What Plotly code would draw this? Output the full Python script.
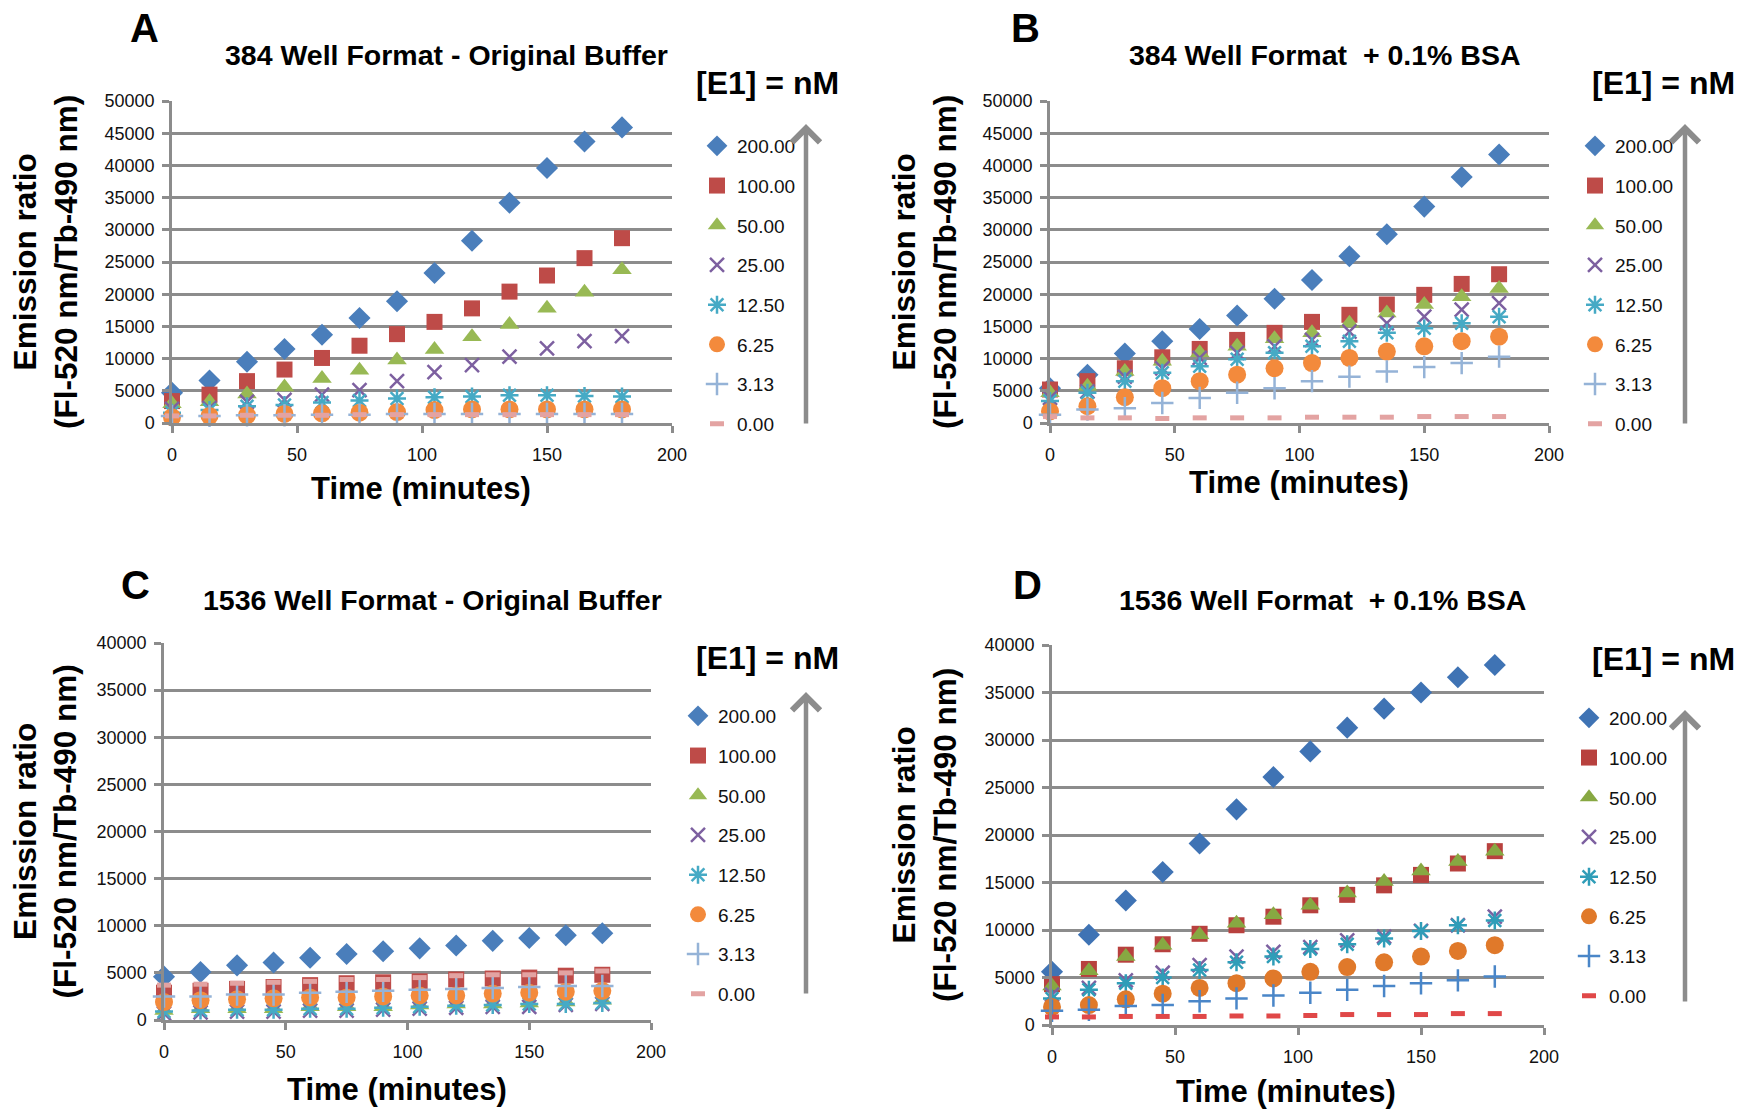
import plotly.graph_objects as go

# ---------------- data ----------------
TIME = [0, 15, 30, 45, 60, 75, 90, 105, 120, 135, 150, 165, 180]
CONC_LABELS = ["200.00", "100.00", "50.00", "25.00", "12.50", "6.25", "3.13", "0.00"]

# Panel A: 384 well, original buffer
A_200 = [4700, 6600, 9500, 11500, 13700, 16300, 18900, 23300, 28300, 34200, 39600, 43700, 45900]
A_100 = [3400, 4400, 6500, 8300, 10100, 12000, 13800, 15700, 17800, 20400, 22900, 25600, 28700]
A_50 = [3000, 3300, 4500, 5600, 6900, 8200, 9800, 11400, 13400, 15300, 17800, 20300, 23800]
A_25 = [2200, 2300, 3300, 3600, 4400, 5100, 6500, 7900, 9000, 10300, 11600, 12700, 13500]
A_12 = [1600, 2000, 2600, 2800, 3200, 3500, 3800, 4000, 4100, 4300, 4300, 4200, 4100]
A_6 = [900, 1100, 1200, 1400, 1500, 1600, 1700, 2000, 2100, 2100, 2100, 2100, 2100]
A_3 = [1100, 1100, 1200, 1200, 1300, 1300, 1400, 1400, 1400, 1400, 1400, 1400, 1400]
A_0 = [1100, 1100, 1200, 1200, 1200, 1300, 1300, 1300, 1300, 1300, 1300, 1300, 1300]

# Panel B: 384 well, +0.1% BSA
B_200 = [5400, 7500, 10800, 12700, 14600, 16700, 19300, 22200, 25900, 29300, 33600, 38200, 41700]
B_100 = [5200, 6500, 8500, 10200, 11500, 12900, 14000, 15700, 16800, 18400, 19900, 21600, 23100]
B_50 = [4700, 5700, 8000, 9600, 10900, 11900, 13100, 14000, 15500, 17100, 18400, 19600, 20900]
B_25 = [3900, 4900, 7200, 8500, 10100, 10900, 11900, 12900, 14200, 15500, 16500, 17600, 18600]
B_12 = [3400, 4700, 6500, 7800, 8800, 9900, 10900, 11900, 12700, 14000, 14700, 15500, 16500]
B_6 = [1800, 2600, 4000, 5400, 6500, 7500, 8500, 9300, 10100, 11100, 11900, 12700, 13400]
B_3 = [1300, 2100, 2300, 3100, 3900, 4700, 5400, 6500, 7200, 8000, 8700, 9300, 10300]
B_0 = [1000, 800, 800, 700, 800, 800, 800, 900, 900, 900, 1000, 1000, 1000]

# Panel C: 1536 well, original buffer
C_200 = [4600, 5100, 5800, 6100, 6600, 7000, 7300, 7600, 7900, 8400, 8700, 9000, 9200]
C_100 = [2900, 3100, 3300, 3500, 3700, 3900, 4000, 4100, 4300, 4400, 4500, 4700, 4800]
C_50 = [1000, 1200, 1200, 1200, 1400, 1400, 1400, 1600, 1700, 1700, 1800, 1900, 2100]
C_25 = [700, 800, 900, 900, 1000, 1000, 1100, 1200, 1300, 1400, 1400, 1600, 1700]
C_12 = [900, 1000, 1100, 1100, 1200, 1200, 1300, 1400, 1500, 1600, 1700, 1700, 1800]
C_6 = [1900, 2100, 2200, 2300, 2400, 2400, 2500, 2600, 2600, 2800, 2900, 3000, 3100]
C_3 = [2500, 2500, 2700, 2700, 2900, 3000, 3100, 3200, 3300, 3400, 3500, 3600, 3600]
C_0 = [3700, 3800, 3900, 4000, 4100, 4300, 4300, 4500, 4700, 4800, 4800, 5000, 5200]

# Panel D: 1536 well, +0.1% BSA
D_200 = [5600, 9500, 13100, 16100, 19100, 22700, 26100, 28800, 31300, 33300, 35000, 36600, 37900]
D_100 = [4300, 5900, 7400, 8500, 9600, 10500, 11400, 12600, 13700, 14700, 15800, 17000, 18300]
D_50 = [4100, 5700, 7200, 8400, 9500, 10700, 11600, 12600, 13900, 15100, 16200, 17200, 18300]
D_25 = [3200, 3900, 4700, 5500, 6300, 7200, 7700, 8200, 8900, 9300, 9900, 10500, 11400]
D_12 = [2800, 3700, 4400, 5000, 5800, 6600, 7200, 8000, 8500, 9100, 9900, 10500, 11000]
D_6 = [1900, 2100, 2700, 3300, 3900, 4400, 4900, 5600, 6100, 6600, 7200, 7800, 8400]
D_3 = [1500, 1600, 2000, 2100, 2500, 2800, 3100, 3400, 3700, 4100, 4400, 4700, 5100]
D_0 = [850, 850, 900, 900, 900, 950, 950, 1000, 1100, 1100, 1100, 1200, 1200]

PANEL_SERIES = {
    "A": [A_200, A_100, A_50, A_25, A_12, A_6, A_3, A_0],
    "B": [B_200, B_100, B_50, B_25, B_12, B_6, B_3, B_0],
    "C": [C_200, C_100, C_50, C_25, C_12, C_6, C_3, C_0],
    "D": [D_200, D_100, D_50, D_25, D_12, D_6, D_3, D_0],
}
PANEL_TITLES = {
    "A": "384 Well Format - Original Buffer",
    "B": "384 Well Format  + 0.1% BSA",
    "C": "1536 Well Format - Original Buffer",
    "D": "1536 Well Format  + 0.1% BSA",
}
PANEL_YMAX = {"A": 50000, "B": 50000, "C": 40000, "D": 40000}

# ---------------- styles ----------------
W, H = 1738, 1111
FONT = "Liberation Sans, Arial, sans-serif"
GRID = "#8c8c8c"

SYMBOLS = ["diamond", "square", "triangle-up", "x-thin-open", "asterisk-open",
           "circle", "cross-thin-open", "line-ew-open"]
SIZES = [17, 16, 17, 14, 15, 18, 16, 10]
LINEW = [0, 0, 0, 2.5, 2.5, 0, 2.5, 5]
COLORS_STD = ["#4a7ebb", "#be4b48", "#98b954", "#7d60a0", "#46aac5", "#f38a3c", "#95b3d7", "#e3a3a2"]
COLORS_D = ["#3f73b4", "#b8413e", "#87a842", "#7d60a0", "#2f9db8", "#e0792a", "#4a86c8", "#e04848"]

# pixel geometry of each plot area: (x_left, x_right, y_top, y_bottom)
PLOT_PX = {
    "A": (172, 672, 101, 423),
    "B": (1050, 1549, 101, 423),
    "C": (164, 651, 643, 1020),
    "D": (1052, 1544, 645, 1025),
}

def px(x):
    return x / W

def py(y):
    return 1 - y / H

fig = go.Figure()
annotations = []

for idx, key in enumerate(["A", "B", "C", "D"]):
    n = idx + 1
    xa = "x" if n == 1 else f"x{n}"
    ya = "y" if n == 1 else f"y{n}"
    legname = "legend" if n == 1 else f"legend{n}"
    colors = COLORS_D if key == "D" else COLORS_STD
    for i, (lab, vals) in enumerate(zip(CONC_LABELS, PANEL_SERIES[key])):
        open_sym = LINEW[i] > 0
        fig.add_trace(go.Scatter(
            x=TIME, y=vals, mode="markers", name=lab,
            xaxis=xa, yaxis=ya, legend=legname, legendgroup=f"{key}{i}",
            cliponaxis=False,
            marker=dict(symbol=SYMBOLS[i], size=SIZES[i], color=colors[i],
                        line=dict(width=LINEW[i], color=colors[i]) if open_sym else dict(width=0)),
        ))

    x0, x1, y0, y1 = PLOT_PX[key]
    fig.update_layout(**{
        ("xaxis" if n == 1 else f"xaxis{n}"): dict(
            domain=[px(x0), px(x1)], anchor=ya, range=[0, 200], dtick=50, automargin=False,
            showgrid=False, zeroline=False, showline=True, linecolor=GRID, linewidth=2.5,
            ticks="outside", ticklen=7, tickcolor=GRID, tickwidth=2.5,
            ticklabelstandoff=7,
            tickfont=dict(family=FONT, size=18, color="#111")),
        ("yaxis" if n == 1 else f"yaxis{n}"): dict(
            domain=[py(y1), py(y0)], anchor=xa, range=[0, PANEL_YMAX[key]], dtick=5000,
            tickformat="d", automargin=False,
            showgrid=True, gridcolor=GRID, gridwidth=2.5, zeroline=False,
            showline=True, linecolor=GRID, linewidth=2.5,
            ticks="outside", ticklen=7, tickcolor=GRID, tickwidth=2.5, ticklabelstandoff=4,
            tickfont=dict(family=FONT, size=18, color="#111")),
    })

layout_text = {
    # key: (letter_x, letter_y, title_x, title_y, e1_x, e1_y, ytitle_x, xtitle_x, xtitle_y,
    #       legend_x, legend_y, arrow_x, arrow_top, arrow_bottom)
    "A": (144, 28, 446, 55, 767, 83, 45, 421, 488, 697, 127, 806, 124, 425),
    "B": (1025, 28, 1325, 55, 1663, 83, 924, 1299, 482, 1575, 127, 1685, 124, 425),
    "C": (135, 585, 432, 600, 767, 658, 45, 397, 1089, 678, 697, 806, 692, 995),
    "D": (1027, 585, 1322, 600, 1663, 659, 924, 1286, 1091, 1569, 699, 1685, 710, 1003),
}

legends = {}
for idx, key in enumerate(["A", "B", "C", "D"]):
    (lx, ly, tx, ty, ex, ey, ytx, xtx, xty, lgx, lgy, ax_, atop, abot) = layout_text[key]
    x0, x1, y0, y1 = PLOT_PX[key]
    annotations.append(dict(x=px(lx), y=py(ly), xref="paper", yref="paper", text=f"<b>{key}</b>",
                            showarrow=False, xanchor="center", yanchor="middle",
                            font=dict(family=FONT, size=40, color="#000")))
    annotations.append(dict(x=px(tx), y=py(ty), xref="paper", yref="paper",
                            text=f"<b>{PANEL_TITLES[key]}</b>",
                            showarrow=False, xanchor="center", yanchor="middle",
                            font=dict(family=FONT, size=28.5, color="#000")))
    annotations.append(dict(x=px(ex), y=py(ey), xref="paper", yref="paper",
                            text="<b>[E1] = nM</b>",
                            showarrow=False, xanchor="center", yanchor="middle",
                            font=dict(family=FONT, size=32, color="#000")))
    annotations.append(dict(x=px(ytx), y=py((y0 + y1) / 2), xref="paper", yref="paper",
                            text="<b>Emission ratio<br>(Fl-520 nm/Tb-490 nm)</b>", textangle=-90,
                            showarrow=False, xanchor="center", yanchor="middle",
                            font=dict(family=FONT, size=31.5, color="#000")))
    annotations.append(dict(x=px(xtx), y=py(xty), xref="paper", yref="paper",
                            text="<b>Time (minutes)</b>",
                            showarrow=False, xanchor="center", yanchor="middle",
                            font=dict(family=FONT, size=31, color="#000")))
    annotations.append(dict(x=px(ax_), y=py(atop), xref="paper", yref="paper",
                            ax=0, ay=abot - atop, axref="pixel", ayref="pixel",
                            text="", showarrow=True, arrowhead=4, arrowsize=1.2,
                            arrowwidth=4.5, arrowcolor="#8c8c8c"))
    legends["legend" if idx == 0 else f"legend{idx + 1}"] = dict(
        x=px(lgx), y=py(lgy), xanchor="left", yanchor="top",
        bgcolor="rgba(0,0,0,0)", borderwidth=0, traceorder="grouped",
        tracegroupgap=12, font=dict(family=FONT, size=19, color="#111"))

fig.update_layout(
    width=W, height=H, margin=dict(l=0, r=0, t=0, b=0, autoexpand=False),
    paper_bgcolor="white", plot_bgcolor="white",
    annotations=annotations, showlegend=True,
    **legends,
)

fig.write_html("out.html")
